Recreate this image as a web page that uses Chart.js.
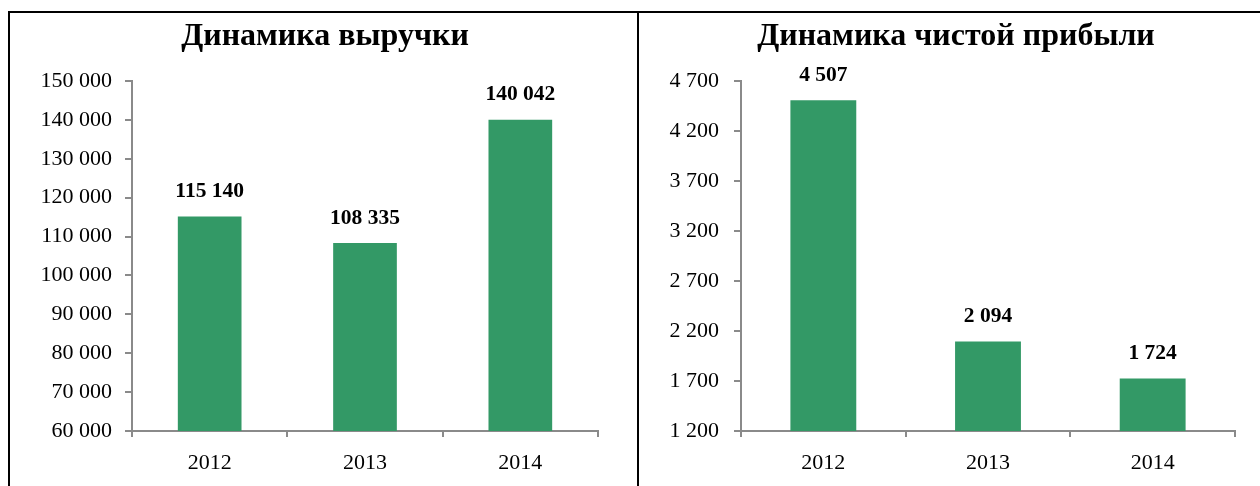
<!DOCTYPE html>
<html><head><meta charset="utf-8">
<script src="https://cdn.jsdelivr.net/npm/chart.js@4"></script>
<style>
html,body{margin:0;padding:0;background:#fff;width:1260px;height:486px;overflow:hidden;}
.box{position:absolute;}
.line{position:absolute;background:#000;}
</style></head><body>
<div class="box" style="left:10px;top:0;width:628px;height:486px;"><canvas id="c1"></canvas></div>
<div class="box" style="left:640px;top:0;width:620px;height:486px;"><canvas id="c2"></canvas></div>
<div class="line" style="left:8px;top:11px;width:1252px;height:2px;"></div>
<div class="line" style="left:8px;top:11px;width:2px;height:475px;"></div>
<div class="line" style="left:637px;top:11px;width:2px;height:475px;"></div>
<script>
const years = ['2012','2013','2014'];
const revenue = [115140, 108335, 140042];
const profit = [4507, 2094, 1724];
const revTitle = 'Динамика выручки';
const profTitle = 'Динамика чистой прибыли';
const revAxis = {min:60000, max:150000, step:10000};
const profAxis = {min:1200, max:4700, step:500};

const FONT = "'Liberation Serif', 'DejaVu Serif', serif";
const GREEN = '#339966';
const AXIS = '#8a8a8a';
const fmt = v => Math.round(v).toString().replace(/\B(?=(\d{3})+(?!\d))/g, ' ');

const labelPlugin = {
  id:'valLabels',
  afterDatasetsDraw(chart){
    const ctx = chart.ctx;
    ctx.save();
    ctx.font = "bold 21.5px " + FONT;
    ctx.fillStyle = '#000';
    ctx.textAlign = 'center';
    ctx.textBaseline = 'middle';
    chart.getDatasetMeta(0).data.forEach((el,i)=>{
      ctx.fillText(fmt(chart.data.datasets[0].data[i]), el.x, el.y - 25);
    });
    // title
    const o = chart.options.plugins.valLabels;
    ctx.font = "bold 32px " + FONT;
    ctx.textBaseline = 'alphabetic';
    ctx.fillText(o.title, o.titleX, 45);
    ctx.restore();
  }
};

function make(id, title, titleX, data, ax, yWidth, padRight, barPct, tickPad){
  new Chart(document.getElementById(id), {
    type:'bar',
    data:{labels:years, datasets:[{data:data, backgroundColor:GREEN, borderWidth:0, barPercentage:barPct, categoryPercentage:1}]},
    options:{
      responsive:true, maintainAspectRatio:false, animation:false,
      layout:{padding:{left:0,right:padRight,top:81,bottom:0}},
      plugins:{
        legend:{display:false}, tooltip:{enabled:false}, title:{display:false},
        valLabels:{title:title, titleX:titleX}
      },
      scales:{
        x:{
          grid:{display:true, drawOnChartArea:false, drawTicks:true, tickLength:6, color:AXIS, lineWidth:2, offset:true},
          border:{display:true, color:AXIS, width:2},
          ticks:{color:'#000', font:{family:FONT, size:22}, padding:13},
          afterFit(s){ s.height = 55; }
        },
        y:{
          min:ax.min, max:ax.max,
          grid:{display:true, drawOnChartArea:false, drawTicks:true, tickLength:7, color:AXIS, lineWidth:2},
          border:{display:true, color:AXIS, width:2},
          ticks:{stepSize:ax.step, color:'#000', font:{family:FONT, size:22}, padding:tickPad, callback:v=>fmt(v)},
          afterFit(s){ s.width = yWidth; }
        }
      }
    },
    plugins:[labelPlugin]
  });
}
make('c1', revTitle, 315, revenue, revAxis, 122, 40, 0.41, 13);
make('c2', profTitle, 316, profit, profAxis, 101, 25, 0.40, 15);
</script>
</body></html>
